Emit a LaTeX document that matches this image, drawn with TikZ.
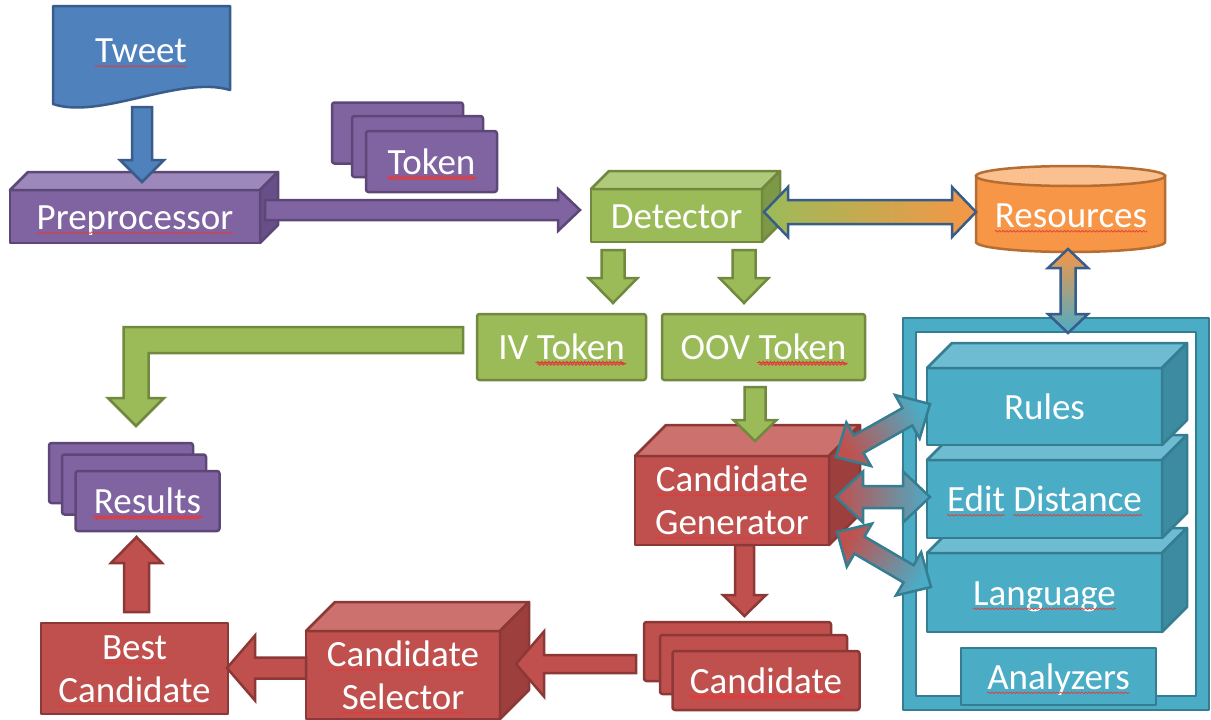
\documentclass[tikz,border=0pt]{standalone}
\usepackage{fontspec}
\setmainfont{Carlito}
\usetikzlibrary{calc,decorations.pathmorphing}

\definecolor{bluefill}{HTML}{4F81BD}
\definecolor{blueline}{HTML}{385D8A}
\definecolor{purfill}{HTML}{8064A2}
\definecolor{purtop}{HTML}{9C88BA}
\definecolor{purside}{HTML}{67508A}
\definecolor{purline}{HTML}{5C4776}
\definecolor{grnfill}{HTML}{9BBB59}
\definecolor{grntop}{HTML}{B0CA7C}
\definecolor{grnside}{HTML}{7D9948}
\definecolor{grnline}{HTML}{71893F}
\definecolor{redfill}{HTML}{C0504D}
\definecolor{redtop}{HTML}{CD716F}
\definecolor{redside}{HTML}{9C3F3D}
\definecolor{redline}{HTML}{8C3836}
\definecolor{tealfill}{HTML}{4BACC6}
\definecolor{tealtop}{HTML}{6EBCD2}
\definecolor{tealside}{HTML}{3D8BA1}
\definecolor{tealline}{HTML}{357D91}
\definecolor{orgfill}{HTML}{F79646}
\definecolor{orgtop}{HTML}{FAC08F}
\definecolor{orgline}{HTML}{B66D31}
\definecolor{spellred}{HTML}{E23B3B}

% wavy red underline under a word
\newlength\splw
\newcommand\spl[1]{\setbox0=\hbox{#1}\setlength\splw{\wd0}\leavevmode\box0%
  \tikz[overlay,baseline=0pt]{\draw[spellred, line width=0.7pt,
    decoration={snake, amplitude=0.9pt, segment length=3.6pt}, decorate]
    (-\splw,-3.8pt) -- (0pt,-3.8pt);}}

% top and right faces of a box whose front face is node #1
\newcommand\cubefaces[4]{%
  \draw[#3] (#1.north west) -- ($(#1.north west)+(#2,-#2)$) -- ($(#1.north east)+(#2,-#2)$) -- (#1.north east) -- cycle;
  \draw[#4] (#1.north east) -- ($(#1.north east)+(#2,-#2)$) -- ($(#1.south east)+(#2,-#2)$) -- (#1.south east) -- cycle;}

% block arrow: style, tail, tip, shaft half width, head half width, head length
\newcommand\blockarrow[6]{%
  \path ($(#3)!#6pt!(#2)$) coordinate (bah);
  \draw[#1] ($(#2)!#4pt!90:(#3)$) -- ($(bah)!#4pt!90:(#3)$) -- ($(bah)!#5pt!90:(#3)$) -- (#3)
    -- ($(bah)!#5pt!-90:(#3)$) -- ($(bah)!#4pt!-90:(#3)$) -- ($(#2)!#4pt!-90:(#3)$) -- cycle;}

% double block arrow: style, end A, end B, shaft half width, head half width, head length
\newcommand\dblarrow[6]{%
  \path ($(#2)!#6pt!(#3)$) coordinate (dah) ($(#3)!#6pt!(#2)$) coordinate (dbh);
  \draw[#1] (#2) -- ($(dah)!#5pt!90:(#3)$) -- ($(dah)!#4pt!90:(#3)$) -- ($(dbh)!#4pt!90:(#3)$)
    -- ($(dbh)!#5pt!90:(#3)$) -- (#3) -- ($(dbh)!#5pt!-90:(#3)$) -- ($(dbh)!#4pt!-90:(#3)$)
    -- ($(dah)!#4pt!-90:(#3)$) -- ($(dah)!#5pt!-90:(#3)$) -- cycle;}

\tikzset{
  base/.style={line width=2.5pt, line join=round, outer sep=0pt, inner sep=0pt, text=white,
    font=\fontsize{37}{43}\selectfont, text height=25pt, text depth=0pt, align=center},
  twoline/.style={text height=68pt, text depth=0pt},
  purbox/.style={base, fill=purfill, draw=purline},
  grnbox/.style={base, fill=grnfill, draw=grnline},
  redbox/.style={base, fill=redfill, draw=redline},
  tealbox/.style={base, fill=tealfill, draw=tealline},
  card/.style={rounded corners=2.5pt},
  face/.style={line width=2.5pt, line join=round, fill=#1},
  purtopf/.style={face=purtop, draw=purline}, pursidef/.style={face=purside, draw=purline},
  grntopf/.style={face=grntop, draw=grnline}, grnsidef/.style={face=grnside, draw=grnline},
  redtopf/.style={face=redtop, draw=redline}, redsidef/.style={face=redside, draw=redline},
  tealtopf/.style={face=tealtop, draw=tealline}, tealsidef/.style={face=tealside, draw=tealline},
  arr/.style={line width=2.5pt, line join=miter},
  bluearr/.style={arr, fill=bluefill, draw=blueline},
  purarr/.style={arr, fill=purfill, draw=purline},
  grnarr/.style={arr, fill=grnfill, draw=grnline},
  redarr/.style={arr, fill=redfill, draw=redline},
  detres/.style={arr, draw=blueline, left color=grnfill, right color=orgfill},
  resfr/.style={arr, draw=blueline, top color=orgfill, bottom color=tealfill},
  linkarr/.style={arr, draw=tealline, left color=redfill, right color=tealfill, shading angle=#1},
}

\begin{document}
\begin{tikzpicture}[x=1pt, y=-1pt]
\useasboundingbox (0,0) rectangle (1211,720);
\fill[white] (0,0) rectangle (1211,720);

% ---- analyzers panel ----
\node[base, fill=tealfill, draw=tealline, minimum width=306pt, minimum height=392pt] (panel) at (1056,514) {};
\node[base, fill=white, draw=tealline, minimum width=280pt, minimum height=364pt] (panelin) at (1056,514) {};
\node[tealbox, minimum width=195pt, minimum height=57pt] (analyzers) at (1058.5,676.5) {\spl{Analyzers}};

\node[tealbox, minimum width=235pt, minimum height=79pt] (language) at (1044.5,592.5) {\spl{Language}};
\cubefaces{language}{25}{tealtopf}{tealsidef}
\node[tealbox, minimum width=235pt, minimum height=78pt] (edit) at (1044.5,499) {\spl{Edit} \spl{Distance}};
\cubefaces{edit}{25}{tealtopf}{tealsidef}
\node[tealbox, minimum width=235pt, minimum height=77pt] (rules) at (1044.5,406.5) {Rules};
\cubefaces{rules}{25}{tealtopf}{tealsidef}

% ---- resources store ----
\draw[line width=2.5pt, fill=orgfill, draw=orgline] (976,176) -- (976,242)
  arc[start angle=180, end angle=360, x radius=94.5pt, y radius=10pt] -- (1165,176) -- cycle;
\draw[line width=2.5pt, fill=orgtop, draw=orgline] (1070.5,176) ellipse[x radius=94.5pt, y radius=10pt];
\node[base] (resources) at (1071,215) {\spl{Resources}};

% ---- tweet ----
\draw[line width=2.5pt, line join=round, fill=bluefill, draw=blueline]
  (53,6) -- (230,6) -- (230,90) .. controls (180,75) and (100,120) .. (53,104) -- cycle;
\node[base] (tweet) at (141,50) {\spl{Tweet}};

% ---- preprocessor ----
\node[purbox, minimum width=250pt, minimum height=53pt] (pre) at (135,216.5) {\spl{Preprocessor}};
\cubefaces{pre}{18}{purtopf}{pursidef}

% ---- token stack ----
\node[purbox, card, minimum width=131pt, minimum height=61pt] (tok1) at (397.5,133) {};
\node[purbox, card, minimum width=131pt, minimum height=61pt] (tok2) at (417.5,146.5) {};
\node[purbox, card, minimum width=131pt, minimum height=61pt] (tok) at (431.5,161.5) {\spl{Token}};

% ---- detector ----
\node[grnbox, minimum width=171pt, minimum height=53pt] (det) at (676.5,215.5) {Detector};
\cubefaces{det}{18}{grntopf}{grnsidef}

\node[grnbox, card, minimum width=169pt, minimum height=66pt] (iv) at (561.5,347) {IV \spl{Token}};
\node[grnbox, card, minimum width=203pt, minimum height=66pt] (oov) at (763.5,347) {OOV \spl{Token}};

% ---- results stack ----
\node[purbox, card, minimum width=144pt, minimum height=60pt] (res1) at (121,473) {};
\node[purbox, card, minimum width=144pt, minimum height=60pt] (res2) at (134,484.5) {};
\node[purbox, card, minimum width=144pt, minimum height=60pt] (results) at (147.5,501) {\spl{Results}};

% ---- candidate generator ----
\node[redbox, twoline, minimum width=194pt, minimum height=89pt] (gen) at (732,500.5) {\spl{Candidate}\\\spl{Generator}};
\cubefaces{gen}{31}{redtopf}{redsidef}

% ---- candidate stack ----
\node[redbox, card, minimum width=187pt, minimum height=59pt] (cand1) at (737.5,651.5) {};
\node[redbox, card, minimum width=187pt, minimum height=59pt] (cand2) at (753.5,664.5) {};
\node[redbox, card, minimum width=187pt, minimum height=59pt] (cand) at (766,680.5) {\spl{Candidate}};

% ---- candidate selector ----
\node[redbox, twoline, minimum width=194pt, minimum height=88pt] (sel) at (403,675) {\spl{Candidate}\\\spl{Selector}};
\cubefaces{sel}{29}{redtopf}{redsidef}

% ---- best candidate ----
\node[redbox, twoline, minimum width=187pt, minimum height=91pt] (best) at (134.5,668.5) {\spl{Best}\\\spl{Candidate}};

% ---- connector end points ----
\coordinate (tweetout) at (142,107);   \coordinate (prein) at (142,182);
\coordinate (preout) at (265,210);     \coordinate (detin) at (580,210);
\coordinate (detl) at (613,250);       \coordinate (ivin) at (613,303);
\coordinate (detr) at (744,250);       \coordinate (oovin) at (744,303);
\coordinate (bestout) at (136.5,612);  \coordinate (resin) at (136.5,537);
\coordinate (selout) at (306,668);     \coordinate (bestin) at (227,668);
\coordinate (candout) at (636,664);    \coordinate (selin) at (516,664);
\coordinate (oovout) at (755,387);     \coordinate (genin) at (755,441);
\coordinate (genout) at (744.5,545);   \coordinate (candin) at (744.5,616);
\coordinate (detio) at (764,212);      \coordinate (resio) at (976,212);
\coordinate (resbot) at (1068,249);    \coordinate (paneltop) at (1068,333);
\coordinate (gen1) at (836,457);       \coordinate (rulesio) at (930,404);
\coordinate (gen2) at (836,497);       \coordinate (editio) at (930,497);
\coordinate (gen3) at (837,532);       \coordinate (langio) at (931,587);

% ---- connectors ----
\blockarrow{bluearr}{tweetout}{prein}{10}{22}{22}
\blockarrow{purarr}{preout}{detin}{10}{21}{22}
\blockarrow{grnarr}{detl}{ivin}{11.5}{24.5}{25}
\blockarrow{grnarr}{detr}{oovin}{11.5}{24.5}{25}
\draw[grnarr] (463,327) -- (123.5,327) -- (123.5,398) -- (108,398) -- (136,426) -- (164,398)
  -- (148.5,398) -- (148.5,353) -- (463,353) -- cycle;
\blockarrow{grnarr}{oovout}{genin}{10.5}{21.5}{21}
\blockarrow{redarr}{genout}{candin}{9.5}{21.5}{21}
\blockarrow{redarr}{candout}{selin}{9}{32.5}{28}
\blockarrow{redarr}{selout}{bestin}{10.5}{32.5}{28}
\blockarrow{redarr}{bestout}{resin}{12.5}{25.5}{26}
\dblarrow{detres}{detio}{resio}{12}{25}{24}
\dblarrow{resfr}{resbot}{paneltop}{7.5}{20}{19}
\dblarrow{linkarr=119}{gen1}{rulesio}{10}{25}{26}
\dblarrow{linkarr=90}{gen2}{editio}{11}{25.5}{27}
\dblarrow{linkarr=60}{gen3}{langio}{10}{25}{26}
\end{tikzpicture}
\end{document}
